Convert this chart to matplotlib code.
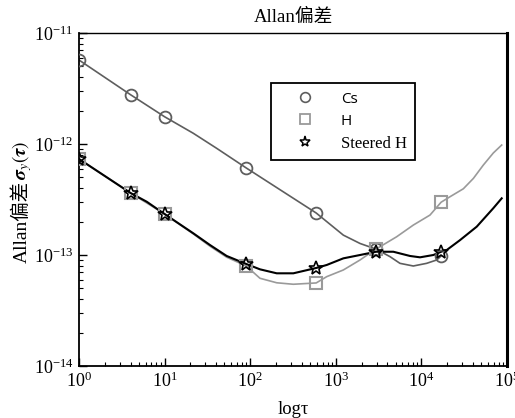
import matplotlib
matplotlib.use("Agg")
import matplotlib.pyplot as plt
from matplotlib.lines import Line2D
from matplotlib.ticker import NullFormatter

plt.rcParams['font.family'] = ['Liberation Serif', 'Noto Sans CJK SC']
plt.rcParams['mathtext.fontset'] = 'stix'

# Averaging times at which the marked points sit
marker_tau = [1, 4, 10, 90, 590, 2950, 17000]
cs_marks = [5.71e-12, 2.78e-12, 1.76e-12, 6.08e-13, 2.39e-13, 1.13e-13, 9.80e-14]
h_marks = [7.33e-13, 3.62e-13, 2.34e-13, 7.96e-14, 5.60e-14, 1.13e-13, 2.99e-13]
steered_marks = [7.33e-13, 3.62e-13, 2.34e-13, 8.30e-14, 7.64e-14, 1.07e-13, 1.07e-13]

# Continuous Allan deviation curves
cs_tau = [1, 4, 10, 21.6, 40.6, 90, 590, 1225, 1920, 2950, 4300, 5620, 8040,
          11500, 15100, 17000]
cs_sigma = [5.71e-12, 2.78e-12, 1.76e-12, 1.25e-12, 9.14e-13, 6.08e-13, 2.39e-13,
            1.51e-13, 1.27e-13, 1.13e-13, 9.66e-14, 8.41e-14, 7.96e-14, 8.41e-14,
            9.02e-14, 9.80e-14]

h_tau = [1, 4, 10, 21.6, 33.9, 53.1, 90, 130, 204, 319, 590, 783, 1225, 1920,
         2510, 2950, 5140, 8040, 12600, 17000, 21600, 30900, 40500, 52800,
         69200, 86700]
h_sigma = [7.33e-13, 3.62e-13, 2.34e-13, 1.55e-13, 1.20e-13, 9.55e-14, 7.96e-14,
           6.17e-14, 5.62e-14, 5.45e-14, 5.60e-14, 6.38e-14, 7.33e-14, 9.02e-14,
           1.04e-13, 1.13e-13, 1.46e-13, 1.86e-13, 2.29e-13, 2.99e-13, 3.35e-13,
           3.95e-13, 4.90e-13, 6.45e-13, 8.30e-13, 9.79e-13]

steered_tau = [1, 4, 6.18, 10, 21.6, 33.9, 53.1, 90, 130, 204, 319, 590, 783,
               1225, 1920, 2950, 4700, 7360, 9640, 13800, 17000, 19800, 28200,
               44300, 69200, 86700]
steered_sigma = [7.33e-13, 3.62e-13, 3.02e-13, 2.34e-13, 1.57e-13, 1.23e-13,
                 9.80e-14, 8.30e-14, 7.43e-14, 6.84e-14, 6.84e-14, 7.64e-14,
                 8.13e-14, 9.33e-14, 1.00e-13, 1.07e-13, 1.07e-13, 9.80e-14,
                 9.53e-14, 1.00e-13, 1.07e-13, 1.11e-13, 1.36e-13, 1.80e-13,
                 2.64e-13, 3.24e-13]

series_labels = ['Cs', 'H', 'Steered H']
title_text = 'Allan偏差'
xlabel_text = 'logτ'

fig = plt.figure(figsize=(5.15, 4.18), dpi=100)
ax = fig.add_axes([79 / 515, 52 / 418, 428 / 515, 333 / 418])
ax.set_xscale('log')
ax.set_yscale('log')
ax.set_xlim(1, 1e5)
ax.set_ylim(1e-14, 1e-11)
ax.xaxis.set_minor_formatter(NullFormatter())
ax.yaxis.set_minor_formatter(NullFormatter())
ax.xaxis.offsetText.set_visible(False)
ax.yaxis.offsetText.set_visible(False)
ax.yaxis.label.set_visible(False)

cs_color = '#5e5e5e'
h_color = '#9a9a9a'
st_color = '#000000'

ax.plot(cs_tau, cs_sigma, color=cs_color, lw=1.2, zorder=2)
ax.plot(h_tau, h_sigma, color=h_color, lw=1.2, zorder=2)
ax.plot(steered_tau, steered_sigma, color=st_color, lw=1.5, zorder=3)

ax.plot(marker_tau, cs_marks, ls='none', marker='o', ms=8.5, mfc='none',
        mec=cs_color, mew=1.3, zorder=4)
ax.plot(marker_tau, h_marks, ls='none', marker='s', ms=8.5, mfc='none',
        mec=h_color, mew=1.5, zorder=4)
ax.plot(marker_tau, steered_marks, ls='none', marker='*', ms=10.5, mfc='none',
        mec=st_color, mew=1.2, zorder=5)

# Axes frame
for side in ('left', 'bottom'):
    ax.spines[side].set_linewidth(1.3)
ax.spines['right'].set_linewidth(2.2)
ax.spines['top'].set_linewidth(1.0)
ax.spines['top'].set_linestyle((0, (2, 1)))

ax.tick_params(which='both', direction='in', top=False, right=False,
               labelsize=13, pad=4)
ax.tick_params(which='major', length=6, width=1.0)
ax.tick_params(which='minor', length=3, width=0.8)

ax.set_title(title_text, fontsize=13.5, pad=8)
ax.set_xlabel(xlabel_text, fontsize=13.5, labelpad=7)

# Legend
handles = [
    Line2D([], [], ls='none', marker='o', ms=7, mfc='none', mec=cs_color, mew=1.2),
    Line2D([], [], ls='none', marker='s', ms=7, mfc='none', mec=h_color, mew=1.3),
    Line2D([], [], ls='none', marker='*', ms=8, mfc='none', mec=st_color, mew=1.1),
]
leg = ax.legend(handles, series_labels, loc='upper left',
                bbox_to_anchor=((271 - 79) / 428, (366 - 83) / 333),
                frameon=True, fancybox=False, framealpha=1, edgecolor='black',
                fontsize=12, handlelength=3.1, handletextpad=0.6,
                labelspacing=0.4, borderpad=0.5, borderaxespad=0)
leg.get_frame().set_linewidth(1.3)
for txt in leg.get_texts()[:2]:
    txt.set_family(['Open Sans', 'DejaVu Sans'])
    txt.set_fontsize(11)

# Rotated y label: plain part plus math part
fig.canvas.draw()
renderer = fig.canvas.get_renderer()
y_plain = fig.text(22 / 515, 1 - 263 / 418, 'Allan偏差', rotation=90,
                   fontsize=14, ha='center', va='bottom')
bb = y_plain.get_window_extent(renderer=renderer)
top_frac = bb.y1 / fig.bbox.height
fig.text(22 / 515, top_frac + 0.002,
         r'$\boldsymbol{\sigma}_y(\boldsymbol{\tau})$', rotation=90,
         fontsize=14, ha='center', va='bottom')

fig.savefig('out.png', dpi=100)
